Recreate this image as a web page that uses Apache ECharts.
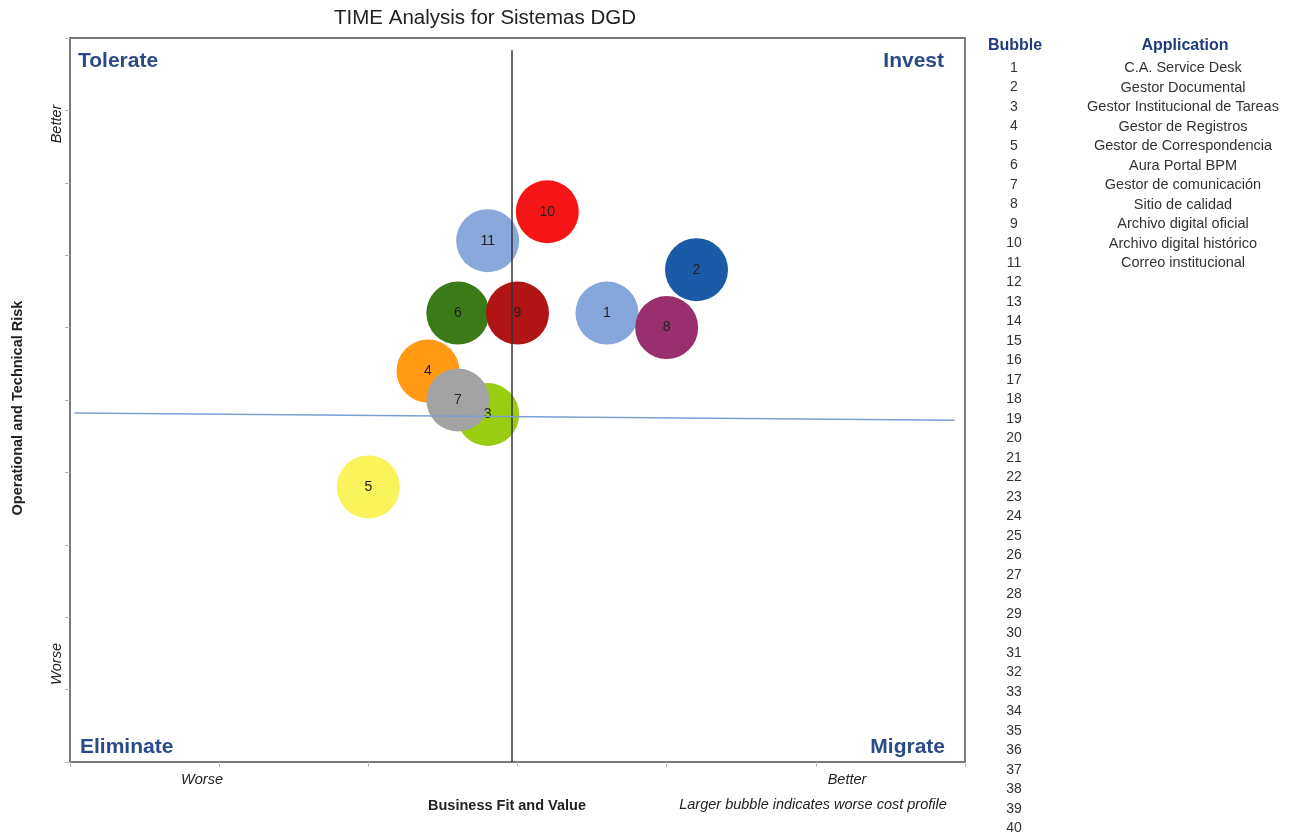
<!DOCTYPE html>
<html>
<head>
<meta charset="utf-8">
<script src="https://cdn.jsdelivr.net/npm/echarts@6/dist/echarts.min.js"></script>
<style>
  html, body { margin: 0; padding: 0; background: #fff; }
  #chart { width: 1305px; height: 840px; }
</style>
</head>
<body>
<div id="chart"></div>
<script>
// bubble data (x = business fit, y = technical risk)
const bubbleIds = [1, 2, 3, 4, 5, 6, 7, 8, 9, 10, 11];
const fitValues = [3.6, 4.2, 2.8, 2.4, 2.0, 2.6, 2.6, 4.0, 3.0, 3.2, 2.8];
const riskValues = [6.2, 6.8, 4.8, 5.4, 3.8, 6.2, 5.0, 6.0, 6.2, 7.6, 7.2];
const costValues = [3, 3, 3, 3, 3, 3, 3, 3, 3, 3, 3];
const bubbleColors = ['#86a7dc', '#1a5aa6', '#9acd12', '#ff9a12', '#f9f35c', '#3b7a18',
  '#a3a3a3', '#99306e', '#b11414', '#f41616', '#89a9dc'];
const appNames = ['C.A. Service Desk', 'Gestor Documental', 'Gestor Institucional de Tareas',
  'Gestor de Registros', 'Gestor de Correspondencia', 'Aura Portal BPM', 'Gestor de comunicación',
  'Sitio de calidad', 'Archivo digital oficial', 'Archivo digital histórico', 'Correo institucional'];
const rowCount = 40;

const chart = echarts.init(document.getElementById('chart'));
const font = '"Liberation Sans", Arial, sans-serif';

// right hand table
const tableItems = [
  { type: 'text', x: 1015, y: 46, style: { text: 'Bubble', font: 'bold 16px ' + font, fill: '#1f3d7a', align: 'center', verticalAlign: 'middle' } },
  { type: 'text', x: 1185, y: 46, style: { text: 'Application', font: 'bold 16px ' + font, fill: '#1f3d7a', align: 'center', verticalAlign: 'middle' } }
];
for (let i = 0; i < rowCount; i++) {
  tableItems.push({
    type: 'text', x: 1014, y: 68 + i * 19.5,
    style: { text: String(i + 1), font: '14px ' + font, fill: '#333', align: 'center', verticalAlign: 'middle' }
  });
  if (appNames[i]) {
    tableItems.push({
      type: 'text', x: 1183, y: 68 + i * 19.5,
      style: { text: appNames[i], font: '14.5px ' + font, fill: '#333', align: 'center', verticalAlign: 'middle' }
    });
  }
}

const quadrant = (text, x, y, align) => ({
  type: 'text', x: x, y: y,
  style: { text: text, font: 'bold 21px ' + font, fill: '#2b4b88', align: align, verticalAlign: 'middle' }
});

const plainText = (text, x, y, style, rot) => ({
  type: 'text', x: x, y: y, rotation: rot || 0,
  style: { text: text, font: style + ' ' + font, fill: '#222', align: 'center', verticalAlign: 'middle' }
});

chart.setOption({
  animation: false,
  grid: {
    left: 70, right: 340, top: 38, bottom: 78,
    show: true, borderColor: '#7a7a7a', borderWidth: 2,
    backgroundColor: '#fff'
  },
  xAxis: {
    type: 'value', min: 0, max: 6, interval: 1,
    axisLine: { show: true, lineStyle: { color: '#7a7a7a', width: 2 } },
    axisTick: { show: true, length: 5, lineStyle: { color: '#bbb' } },
    axisLabel: { show: false },
    splitLine: { show: false }
  },
  yAxis: {
    type: 'value', min: 0, max: 10, interval: 1,
    axisLine: { show: true, lineStyle: { color: '#7a7a7a', width: 2 } },
    axisTick: { show: true, length: 5, lineStyle: { color: '#bbb' } },
    axisLabel: { show: false },
    splitLine: { show: false }
  },
  graphic: tableItems.concat([
    plainText('TIME Analysis for Sistemas DGD', 485, 18, '20.5px'),
    quadrant('Tolerate', 78, 61, 'left'),
    quadrant('Invest', 944, 61, 'right'),
    quadrant('Eliminate', 80, 747, 'left'),
    quadrant('Migrate', 945, 747, 'right'),
    plainText('Worse', 202, 780, 'italic 14.5px'),
    plainText('Better', 847, 780, 'italic 14.5px'),
    plainText('Better', 57, 124, 'italic 14.5px', Math.PI / 2),
    plainText('Worse', 57, 664, 'italic 14.5px', Math.PI / 2),
    plainText('Operational and Technical Risk', 18, 408, 'bold 14.5px', Math.PI / 2),
    plainText('Business Fit and Value', 507, 806, 'bold 14.5px'),
    plainText('Larger bubble indicates worse cost profile', 813, 805, 'italic 14.5px')
  ]),
  series: [{
    type: 'scatter',
    symbol: 'circle',
    data: bubbleIds.map((id, i) => ({
      value: [fitValues[i], riskValues[i], costValues[i], id],
      itemStyle: { color: bubbleColors[i], opacity: 1 }
    })),
    symbolSize: v => v[2] * 21,
    label: {
      show: true, position: 'inside',
      formatter: p => p.value[3],
      fontFamily: font, fontSize: 14, color: '#222'
    },
    markLine: {
      silent: true, symbol: 'none', label: { show: false },
      data: [
        [{ coord: [2.96, 9.83], lineStyle: { color: '#333', width: 1.5, type: 'solid' } }, { coord: [2.96, 0] }],
        [{ coord: [0.03, 4.82], lineStyle: { color: '#7a9fd0', width: 1.5, type: 'solid' } }, { coord: [5.93, 4.72] }]
      ]
    }
  }]
});
</script>
</body>
</html>
